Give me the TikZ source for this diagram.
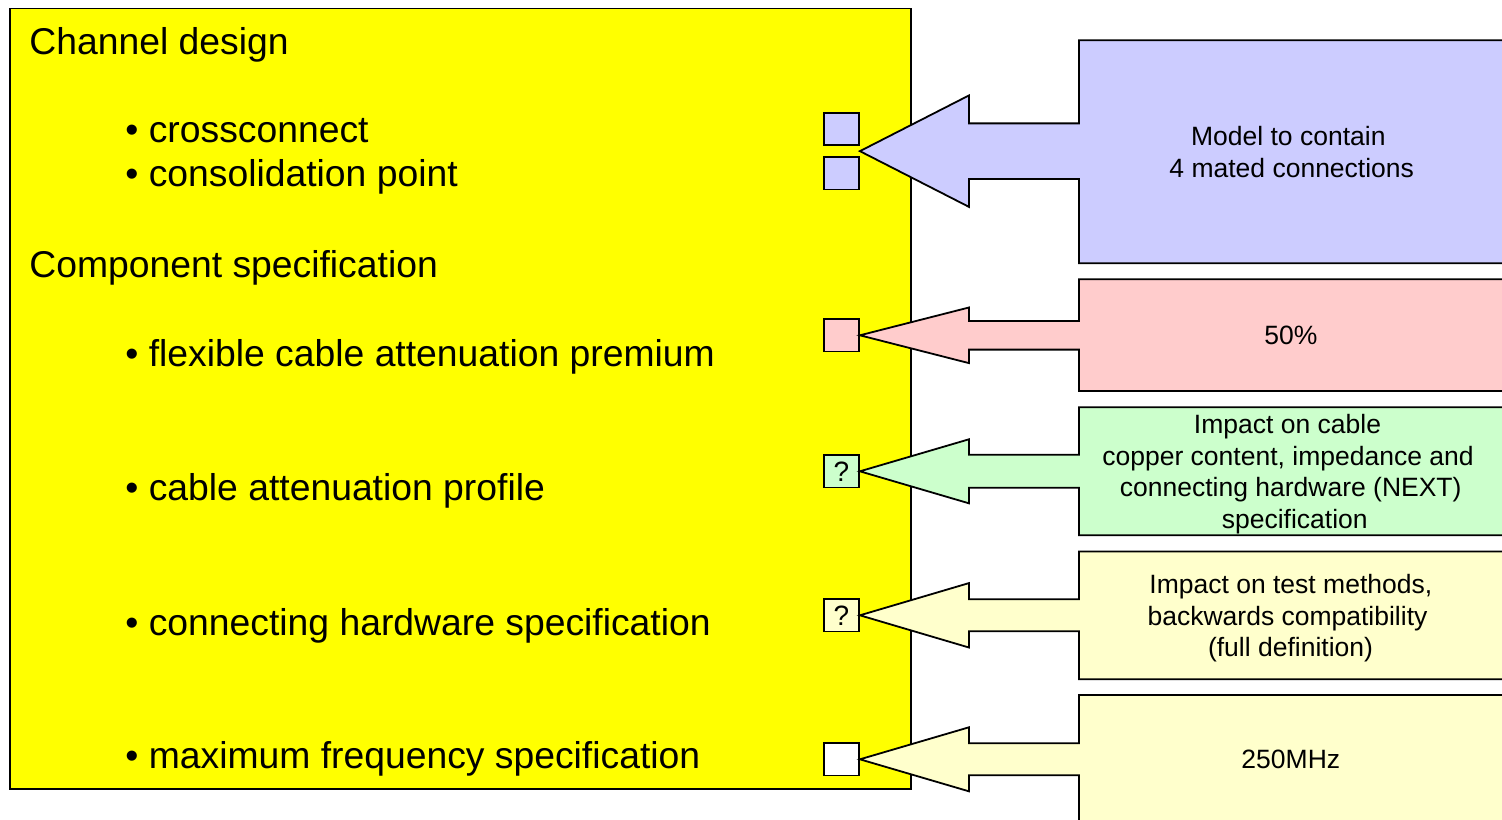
\documentclass[tikz,border=0pt]{standalone}
\usepackage{fontspec}
\setmainfont{Liberation Sans}
\usetikzlibrary{calc}
\definecolor{cblue}{RGB}{204,204,255}
\definecolor{cpink}{RGB}{255,204,204}
\definecolor{cgreen}{RGB}{204,255,204}
\definecolor{cpale}{RGB}{255,255,204}
\definecolor{cyel}{RGB}{255,255,0}
\newcommand{\mycallout}[6]{\draw[callout,fill=#6] (#1) -- +(109,-#2) -- +(109,-#3) -- +(219,-#3) -- +(219,-#4) -- +(670,-#4) -- +(670,#5) -- +(219,#5) -- +(219,#3) -- +(109,#3) -- +(109,#2) -- cycle;}
\begin{document}
\begin{tikzpicture}[x=0.5pt,y=-0.5pt,
  big/.style={font=\fontsize{18.65}{22.5}\selectfont, inner sep=0pt, anchor=base west},
  small/.style={font=\fontsize{13.25}{16}\selectfont, inner sep=0pt, anchor=base},
  sqbox/.style={draw=black, line width=0.9pt, minimum width=17.5pt, minimum height=16.25pt, inner sep=0pt, font=\fontsize{14}{16}\selectfont},
  callout/.style={draw=black, line width=0.9pt, line join=miter}]
\useasboundingbox (0,0) rectangle (1502,819);
\clip (0,0) rectangle (1502,819);

% main panel
\node[draw=black, fill=cyel, line width=0.9pt, anchor=north west, minimum width=450.6pt, minimum height=390.1pt, inner sep=0pt] (panel) at (9,7.5) {};

% squares
\node[sqbox, fill=cblue] (sq1) at (841.5,129) {};
\node[sqbox, fill=cblue] (sq2) at (841.5,173.3) {};
\node[sqbox, fill=cpink] (sqP) at (841.5,335.3) {};
\node[sqbox, fill=cgreen] (sqG) at (841.5,471.3) {?};
\node[sqbox, fill=cpale] (sqY1) at (841.5,615.3) {?};
\node[sqbox, fill=white] (sqY2) at (841.5,759.3) {};

% callouts
\coordinate (tipB) at ($(sq1.south east)!0.5!(sq2.north east)$);
\mycallout{tipB}{55.7}{27.8}{111}{112}{cblue}
\mycallout{sqP.east}{27.8}{14.3}{56}{55.7}{cpink}
\mycallout{sqG.east}{32}{16.5}{64}{64}{cgreen}
\mycallout{sqY1.east}{32.2}{16}{63.8}{64}{cpale}
\mycallout{sqY2.east}{32}{16}{64.3}{150}{cpale}

% left texts
\node[big] (h1) at (29,54) {Channel design};
\node[big] (b1) at (125,142.7) {• crossconnect};
\node[big] (b2) at (125,186.7) {• consolidation point};
\node[big] (h2) at (29,277.3) {Component specification};
\node[big] (b3) at (125,366.7) {• flexible cable attenuation premium};
\node[big] (b4) at (125,500) {• cable attenuation profile};
\node[big] (b5) at (125,635) {• connecting hardware specification};
\node[big] (b6) at (125,768) {• maximum frequency specification};

% right texts
\node[small] (m1) at (1288.3,145) {Model to contain};
\node[small] (m2) at (1291.7,177.3) {4 mated connections};
\node[small] (p1) at (1290.8,344.3) {50\%};
\node[small] (g1) at (1287.5,433.3) {Impact on cable};
\node[small] (g2) at (1288,465) {copper content, impedance and};
\node[small] (g3) at (1290.7,496.7) {connecting hardware (NEXT)};
\node[small] (g4) at (1294.7,528.3) {specification};
\node[small] (y1) at (1290.8,593.3) {Impact on test methods,};
\node[small] (y2) at (1287.5,625) {backwards compatibility};
\node[small] (y3) at (1290.5,656.7) {(full definition)};
\node[small] (z1) at (1290.8,768.3) {250MHz};
\end{tikzpicture}
\end{document}
